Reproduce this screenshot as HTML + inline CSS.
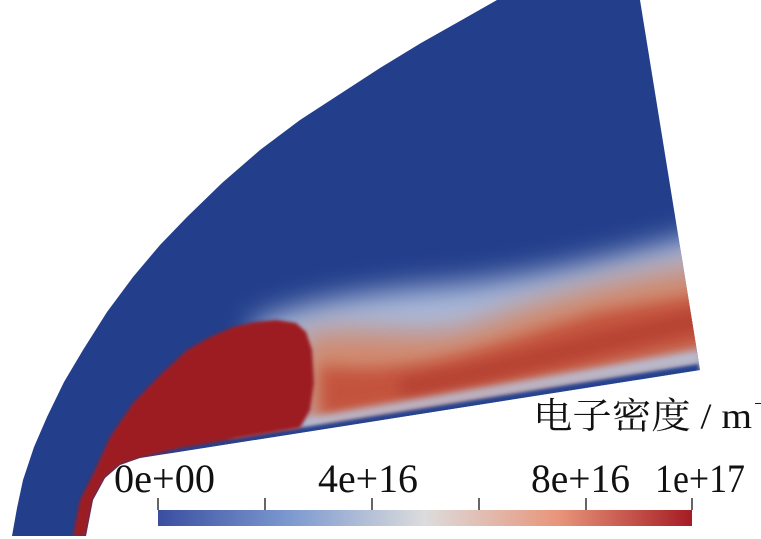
<!DOCTYPE html>
<html><head><meta charset="utf-8"><style>
html,body{margin:0;padding:0;background:#fff;width:761px;height:539px;overflow:hidden}
</style></head><body>
<svg width="761" height="539" viewBox="0 0 761 539" xmlns="http://www.w3.org/2000/svg">
<defs>
<clipPath id="dom"><path d="M12 536 L17 508 L23 480 L34 447 L47 417 L64 382 L83 350 L107 312 L133 277 L160 245 L187 217 L222 183 L260 150 L300 120 L340 94 L380 68 L421 43 L460 21 L497 0 L640 0 L700 370 L140 458 L120 465 L105 478 L93 500 L86 536 Z"/></clipPath>
<filter id="b14" x="-50%" y="-50%" width="200%" height="200%"><feGaussianBlur stdDeviation="14"/></filter>
<filter id="b8" x="-50%" y="-50%" width="200%" height="200%"><feGaussianBlur stdDeviation="8"/></filter>
<filter id="b4" x="-50%" y="-50%" width="200%" height="200%"><feGaussianBlur stdDeviation="4"/></filter>
<filter id="b2" x="-50%" y="-50%" width="200%" height="200%"><feGaussianBlur stdDeviation="1.5"/></filter>
<linearGradient id="cb" x1="0" x2="1">
<stop offset="0" stop-color="#3a4ea0"/><stop offset="0.25" stop-color="#7d9ad0"/><stop offset="0.5" stop-color="#dcdcdc"/><stop offset="0.75" stop-color="#e8957a"/><stop offset="1" stop-color="#a51c24"/>
</linearGradient>
</defs>
<g clip-path="url(#dom)">
<rect width="761" height="539" fill="#233f8c"/>
<path d="M250 325 C300 300 380 290 450 285 C550 275 640 250 720 228 L720 380 L300 440 Z" fill="#a9b9da" filter="url(#b14)"/>
<path d="M300 335 C360 320 430 345 480 322 C560 292 640 272 720 262 L720 350 L460 405 L300 430 Z" fill="#d08a6e" filter="url(#b14)"/>
<path d="M320 365 C420 380 500 340 600 312 L720 292 L720 342 L460 395 L320 420 Z" fill="#c4533c" filter="url(#b8)"/>
<path d="M400 388 C500 372 600 340 710 318" stroke="#b03a2e" stroke-width="14" fill="none" filter="url(#b8)"/>
<path d="M230 436 L700 356" stroke="#b8c6e0" stroke-width="8" fill="none" filter="url(#b4)"/>
<path d="M170 460 L700 375" stroke="#27428f" stroke-width="22" fill="none" filter="url(#b2)"/>
<path d="M73 536 L80 500 L95 470 L110 437 L133 403 L160 375 L187 350 L210 337 L233 327 L255 322 L277 320 L296 323 L306 332 L312 350 L314 383 L310 410 L300 428 L240 438 L180 448 L140 458 L120 465 L105 478 L93 500 L86 536 Z" fill="#9d1c22" filter="url(#b2)"/>
</g>
<rect x="158" y="510" width="534" height="16" fill="url(#cb)"/>
<g stroke="#333" stroke-width="1.5">
<line x1="158" y1="498" x2="158" y2="510"/><line x1="265" y1="498" x2="265" y2="510"/><line x1="372" y1="498" x2="372" y2="510"/><line x1="479" y1="498" x2="479" y2="510"/><line x1="586" y1="498" x2="586" y2="510"/><line x1="692" y1="498" x2="692" y2="510"/>
</g>
<g font-family="'Liberation Serif', serif" font-size="40" fill="#111">
<text x="114" y="492" textLength="101" lengthAdjust="spacingAndGlyphs">0e+00</text>
<text x="318" y="492" textLength="100" lengthAdjust="spacingAndGlyphs">4e+16</text>
<text x="531" y="492" textLength="99" lengthAdjust="spacingAndGlyphs">8e+16</text>
<text x="655" y="492" textLength="90" lengthAdjust="spacingAndGlyphs">1e+17</text>
</g>
<text x="533" y="428" font-family="'Liberation Serif','Noto Serif CJK SC',serif" font-size="36" fill="#111" textLength="219" lengthAdjust="spacingAndGlyphs">电子密度 / m</text>
<text x="754" y="410" font-family="'Liberation Serif',serif" font-size="20" fill="#111">−3</text>
</svg>
</body></html>
